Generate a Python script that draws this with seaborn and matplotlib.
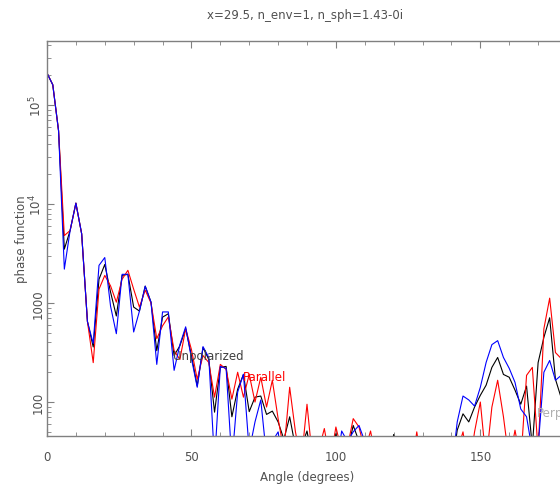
import numpy as np
import pandas as pd
import matplotlib
matplotlib.use("Agg")
import matplotlib.pyplot as plt
import seaborn as sns
from matplotlib.ticker import MultipleLocator, LogLocator, NullFormatter

# scattering angle grid (degrees)
angles = np.arange(0, 182, 2)

unpolarized = [
    210000, 160000, 55000, 3500, 5400, 10200, 5000, 650, 360, 1740,
    2450, 1290, 740, 1900, 1950, 910, 830, 1480, 1020, 330,
    720, 780, 295, 370, 550, 295, 145, 355, 270, 79,
    224, 229, 71, 135, 190, 80, 112, 115, 75, 81,
    63, 42, 71, 35, 35, 51, 25, 25, 25, 25,
    48, 25, 32, 58, 40, 25, 20, 20, 20, 20,
    47, 20, 20, 20, 20, 20, 20, 20, 20, 20,
    20, 52, 76, 63, 89, 117, 148, 224, 282, 190,
    178, 132, 95, 145, 35, 250, 450, 710, 170, 110,
    200,
]

parallel = [
    210000, 160000, 55000, 4800, 5400, 10200, 5000, 650, 250, 1380,
    1900, 1490, 1020, 1740, 2140, 1380, 910, 1350, 1000, 437,
    589, 724, 331, 269, 550, 339, 170, 295, 251, 112,
    240, 214, 107, 200, 112, 190, 100, 178, 89, 166,
    68, 32, 141, 50, 25, 95, 25, 32, 54, 25,
    56, 32, 35, 68, 56, 32, 51, 25, 20, 20,
    20, 20, 20, 20, 50, 20, 20, 20, 20, 20,
    20, 32, 50, 20, 50, 100, 25, 89, 166, 71,
    25, 52, 25, 186, 224, 32, 550, 1120, 316, 275,
    398,
]

perpendicular = [
    210000, 160000, 55000, 2200, 5400, 10200, 5000, 650, 390, 2400,
    2880, 930, 490, 1950, 1950, 510, 830, 1480, 1020, 240,
    813, 813, 209, 380, 575, 275, 141, 363, 282, 25,
    229, 219, 25, 126, 191, 32, 63, 105, 28, 40,
    50, 20, 20, 20, 20, 20, 20, 20, 20, 20,
    20, 51, 40, 50, 58, 40, 20, 20, 20, 20,
    20, 20, 20, 20, 20, 20, 20, 20, 20, 20,
    20, 63, 115, 105, 91, 141, 251, 380, 417, 282,
    219, 158, 85, 71, 32, 35, 200, 263, 166, 186,
    200,
]

series_names = ["Unpolarized", "Parallel", "Perpendicular"]
series_colors = ["black", "#ff0000", "#0000ff"]
title = "x=29.5, n_env=1, n_sph=1.43-0i"
xtick_vals = [0, 50, 100, 150]
ytick_vals = [100, 1000, 1e4, 1e5]
ytick_labels = ["100", "1000", "$10^4$", "$10^5$"]

sns.set_style("ticks")
plt.rcParams["font.family"] = ["DejaVu Sans"]

df = pd.DataFrame({
    "angle": angles,
    "Unpolarized": unpolarized,
    "Parallel": parallel,
    "Perpendicular": perpendicular,
}).melt(id_vars="angle", var_name="series", value_name="value")

fig = plt.figure(figsize=(5.6, 4.85), dpi=100)
# right edge of the frame runs past the image, as in the original
ax = fig.add_axes([47 / 560, 48 / 485, 520 / 560, 395 / 485])

sns.lineplot(data=df, x="angle", y="value", hue="series",
             hue_order=series_names, palette=series_colors,
             estimator=None, sort=False, legend=False, lw=0.8, ax=ax)

ax.set_yscale("log")
ax.set_xlim(0, 180)
ax.set_ylim(45.4, 4.43e5)

grey = "#808080"
txt = "#505050"
for s in ax.spines.values():
    s.set_color(grey)
    s.set_linewidth(1.0)

ax.set_xticks(xtick_vals)
ax.xaxis.set_minor_locator(MultipleLocator(10))
ax.set_yticks(ytick_vals)
ax.set_yticklabels(ytick_labels, rotation=90, va="center")
ax.yaxis.set_minor_locator(LogLocator(base=10, subs=np.arange(2, 10)))
ax.yaxis.set_minor_formatter(NullFormatter())
ax.tick_params(which="both", direction="in", top=True, right=True,
               color=grey, labelcolor=txt, labelsize=8.5)
ax.tick_params(which="major", length=5, width=0.8)
ax.tick_params(which="minor", length=3, width=0.6)
ax.tick_params(axis="x", pad=10)
ax.tick_params(axis="y", pad=2)

ax.set_xlabel("Angle (degrees)", fontsize=8.5, color=txt, labelpad=5)
ax.set_ylabel("phase function", fontsize=8.5, color=txt, labelpad=0)
fig.text(0.545, 0.969, title, ha="center", va="center", fontsize=8.5, color=txt)

ax.text(43.6, 297, "Unpolarized", color="#404040", fontsize=8.5, va="center")
ax.text(67.8, 183, "Parallel", color="#ff0000", fontsize=8.5, va="center")
ax.text(169.5, 79, "Perpendicular", color="#b0b0b0", fontsize=8.5, va="center")

fig.savefig("out.png", dpi=100)
